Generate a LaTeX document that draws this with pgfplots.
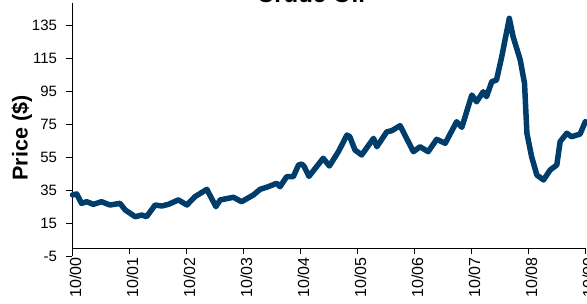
\documentclass[border=0pt]{standalone}
\usepackage{fontspec}
\setmainfont{Liberation Sans}
\usepackage{pgfplots}
\pgfplotsset{compat=1.18}
\definecolor{oil}{RGB}{0,61,107}
\begin{document}
\begin{tikzpicture}
\begin{axis}[
  scale only axis,
  width=512.8pt, height=253.5pt,
  xmin=0, xmax=108, ymin=-5, ymax=149,
  axis x line=middle, axis y line=left,
  axis line style={-, black, line width=0.8pt},
  hide obscured x ticks=false, hide obscured y ticks=false,
  tick align=outside,
  major tick length=6pt,
  tick style={black, line width=0.8pt},
  xtick={0,12,...,108},
  xticklabels={10/00,10/01,10/02,10/03,10/04,10/05,10/06,10/07,10/08,10/09},
  x tick label style={rotate=90, anchor=east, font=\fontsize{16}{16}\selectfont, yshift=-3pt},
  ytick={-5,15,...,135},
  y tick label style={font=\fontsize{15}{15}\selectfont, xshift=-6pt},
  /pgf/number format/assume math mode=true,
  ylabel={\textbf{Price (\$)}},
  ylabel style={at={(axis description cs:-0.0985,0.466)}, anchor=center, font=\fontsize{21.5}{21.5}\selectfont},
  clip=false,
]
\addplot[oil, line width=5.5pt, line join=round, line cap=round] coordinates {
(0,32.2) (0.9,32.8) (1.9,27.1) (3.0,28.1) (4.4,26.5) (6.1,28.1) (7.9,26.1)
(10.0,27.1) (11.1,23.1) (13.2,19.0) (14.6,20.0) (15.6,19.0) (17.4,26.1)
(18.8,25.5) (20.2,26.5) (22.3,29.2) (24.1,26.1) (25.8,31.2) (28.3,35.6)
(30.2,25.1) (31.1,29.2) (33.9,30.8) (35.6,28.1) (38.1,32.2) (39.5,35.6)
(41.2,37.2) (43.0,39.3) (43.7,37.2) (45.1,43.3) (46.5,43.3) (47.6,50.4)
(48.3,51.0) (48.8,49.5) (49.8,43.5) (52.8,54.5) (54.1,49.8) (56.0,58.5)
(57.8,68.6) (58.4,67.6) (59.5,59.5) (60.9,56.5) (63.4,66.6) (64.1,61.5)
(66.2,70.6) (67.2,71.2) (69.0,74.3) (70.0,68.6) (71.8,58.5) (73.2,61.5)
(74.9,58.5) (76.7,66.0) (78.5,63.6) (80.9,76.7) (82.0,73.3) (84.1,92.9)
(85.1,88.8) (86.5,94.9) (87.2,91.9) (88.3,101.0) (89.3,102.0) (90.4,116.2)
(92.0,139.5) (92.8,128.3) (94.3,114.2) (95.2,100.0) (95.7,69.7) (96.7,55.4)
(97.8,44.3) (99.2,41.3) (100.6,47.4) (102.0,50.4) (102.7,64.6) (104.1,69.7)
(105.1,67.6) (106.9,69.2) (108.0,76.7)
};
\node[anchor=base, inner sep=0pt, font=\fontsize{24}{24}\selectfont\bfseries] at (axis description cs:0.465,1.0) {Crude Oil};
\end{axis}
\pgfresetboundingbox
\useasboundingbox (-72.5pt,-46.8pt) rectangle (514.5pt,256.2pt);
\end{tikzpicture}
\end{document}
